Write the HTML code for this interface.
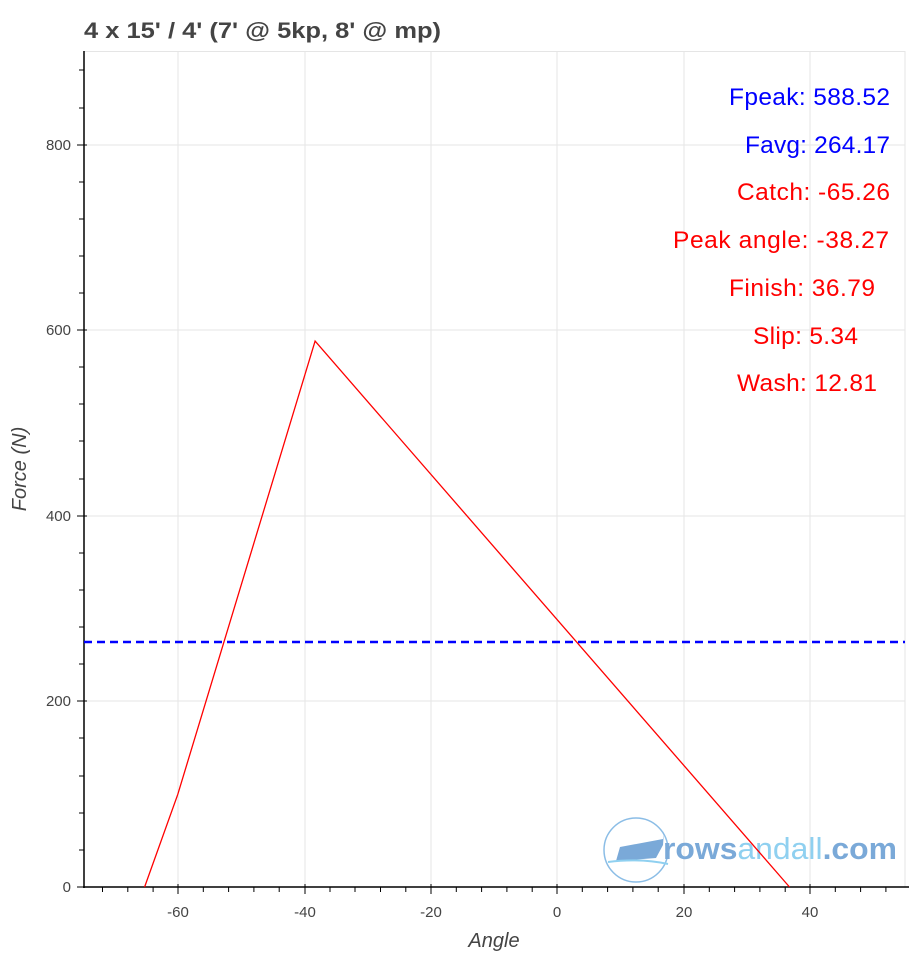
<!DOCTYPE html>
<html><head><meta charset="utf-8"><style>
body{margin:0;background:#fff;}
svg{display:block;font-family:"Liberation Sans",Arial,sans-serif;}
</style></head><body>
<svg width="912" height="960" xmlns="http://www.w3.org/2000/svg">
<rect width="912" height="960" fill="#fff"/>
<text x="84" y="38" font-size="22" font-weight="bold" fill="#444" textLength="357" lengthAdjust="spacingAndGlyphs">4 x 15' / 4' (7' @ 5kp, 8' @ mp)</text>
<g stroke="#e5e5e5" stroke-width="1">
<line x1="178" y1="51" x2="178" y2="887"/><line x1="305" y1="51" x2="305" y2="887"/>
<line x1="431" y1="51" x2="431" y2="887"/><line x1="557" y1="51" x2="557" y2="887"/>
<line x1="684" y1="51" x2="684" y2="887"/><line x1="810" y1="51" x2="810" y2="887"/>
<line x1="84" y1="145" x2="905" y2="145"/><line x1="84" y1="330" x2="905" y2="330"/>
<line x1="84" y1="516" x2="905" y2="516"/><line x1="84" y1="701" x2="905" y2="701"/>
<line x1="84" y1="51.5" x2="905" y2="51.5"/><line x1="905" y1="51" x2="905" y2="887"/>
</g>
<g stroke="#000" stroke-width="1">
<line x1="84" y1="51" x2="84" y2="888" stroke-width="1.5"/>
<line x1="83" y1="887" x2="909" y2="887" stroke-width="1.5"/>
<line x1="77" y1="145" x2="87" y2="145"/><line x1="77" y1="330" x2="87" y2="330"/>
<line x1="77" y1="516" x2="87" y2="516"/><line x1="77" y1="701" x2="87" y2="701"/>
<line x1="77" y1="887" x2="84" y2="887"/>
<line x1="79" y1="70" x2="84" y2="70"/><line x1="79" y1="108" x2="84" y2="108"/>
<line x1="79" y1="182" x2="84" y2="182"/><line x1="79" y1="219" x2="84" y2="219"/><line x1="79" y1="256" x2="84" y2="256"/><line x1="79" y1="293" x2="84" y2="293"/>
<line x1="79" y1="367" x2="84" y2="367"/><line x1="79" y1="404" x2="84" y2="404"/><line x1="79" y1="441" x2="84" y2="441"/><line x1="79" y1="479" x2="84" y2="479"/>
<line x1="79" y1="553" x2="84" y2="553"/><line x1="79" y1="590" x2="84" y2="590"/><line x1="79" y1="627" x2="84" y2="627"/><line x1="79" y1="664" x2="84" y2="664"/>
<line x1="79" y1="738" x2="84" y2="738"/><line x1="79" y1="776" x2="84" y2="776"/><line x1="79" y1="813" x2="84" y2="813"/><line x1="79" y1="850" x2="84" y2="850"/>
<line x1="178" y1="884" x2="178" y2="894"/><line x1="305" y1="884" x2="305" y2="894"/>
<line x1="431" y1="884" x2="431" y2="894"/><line x1="557" y1="884" x2="557" y2="894"/>
<line x1="684" y1="884" x2="684" y2="894"/><line x1="810" y1="884" x2="810" y2="894"/>
<line x1="102.5" y1="887" x2="102.5" y2="892"/><line x1="127.8" y1="887" x2="127.8" y2="892"/><line x1="153.1" y1="887" x2="153.1" y2="892"/>
<line x1="203.3" y1="887" x2="203.3" y2="892"/><line x1="228.6" y1="887" x2="228.6" y2="892"/><line x1="253.9" y1="887" x2="253.9" y2="892"/><line x1="279.2" y1="887" x2="279.2" y2="892"/>
<line x1="330" y1="887" x2="330" y2="892"/><line x1="355" y1="887" x2="355" y2="892"/><line x1="380.5" y1="887" x2="380.5" y2="892"/><line x1="405.8" y1="887" x2="405.8" y2="892"/>
<line x1="456.3" y1="887" x2="456.3" y2="892"/><line x1="481.6" y1="887" x2="481.6" y2="892"/><line x1="506.9" y1="887" x2="506.9" y2="892"/><line x1="532.2" y1="887" x2="532.2" y2="892"/>
<line x1="582.3" y1="887" x2="582.3" y2="892"/><line x1="607.6" y1="887" x2="607.6" y2="892"/><line x1="632.9" y1="887" x2="632.9" y2="892"/><line x1="658.2" y1="887" x2="658.2" y2="892"/>
<line x1="709.3" y1="887" x2="709.3" y2="892"/><line x1="734.6" y1="887" x2="734.6" y2="892"/><line x1="759.9" y1="887" x2="759.9" y2="892"/><line x1="785.2" y1="887" x2="785.2" y2="892"/>
<line x1="835.3" y1="887" x2="835.3" y2="892"/><line x1="860.6" y1="887" x2="860.6" y2="892"/><line x1="885.9" y1="887" x2="885.9" y2="892"/>
</g>
<g font-size="15" fill="#444" text-anchor="end">
<text x="71" y="150">800</text><text x="71" y="335">600</text><text x="71" y="521">400</text><text x="71" y="706">200</text><text x="71" y="892">0</text>
</g>
<g font-size="15" fill="#444" text-anchor="middle">
<text x="178" y="917">-60</text><text x="305" y="917">-40</text><text x="431" y="917">-20</text><text x="557" y="917">0</text><text x="684" y="917">20</text><text x="810" y="917">40</text>
</g>
<text x="494" y="947" font-size="20" font-style="italic" fill="#444" text-anchor="middle">Angle</text>
<text transform="translate(26,469) rotate(-90)" font-size="20" font-style="italic" fill="#444" text-anchor="middle">Force (N)</text>
<g>
<circle cx="636" cy="850" r="32" fill="none" stroke="#8bbde6" stroke-width="1.5"/>
<polygon points="620,847 663,839 664,831 663,845 656,858 616,861" fill="#7aa9d8"/>
<path d="M608 862 Q640 858 668 864" stroke="#8fd0f0" stroke-width="2" fill="none"/>
<text x="663" y="859" font-size="31" fill="#7aa9d8" textLength="234" lengthAdjust="spacingAndGlyphs"><tspan font-weight="bold">rows</tspan><tspan fill="#8fd0f0">andall</tspan><tspan font-weight="bold">.com</tspan></text>
</g>
<line x1="84" y1="642" x2="905" y2="642" stroke="#0000ff" stroke-width="2.5" stroke-dasharray="8,5"/>
<polyline points="144.6,887 177.8,794.3 315.1,341.1 789.5,887" fill="none" stroke="#ff0000" stroke-width="1.3"/>
<g font-size="24.5" lengthAdjust="spacingAndGlyphs">
<text x="729" y="105" fill="#0000ff" textLength="161">Fpeak: 588.52</text>
<text x="745" y="153" fill="#0000ff" textLength="145">Favg: 264.17</text>
<text x="737" y="200" fill="#ff0000" textLength="153">Catch: -65.26</text>
<text x="673" y="248" fill="#ff0000" textLength="216">Peak angle: -38.27</text>
<text x="729" y="296" fill="#ff0000" textLength="146">Finish: 36.79</text>
<text x="753" y="344" fill="#ff0000" textLength="105">Slip: 5.34</text>
<text x="737" y="391" fill="#ff0000" textLength="140">Wash: 12.81</text>
</g>
</svg>
</body></html>
